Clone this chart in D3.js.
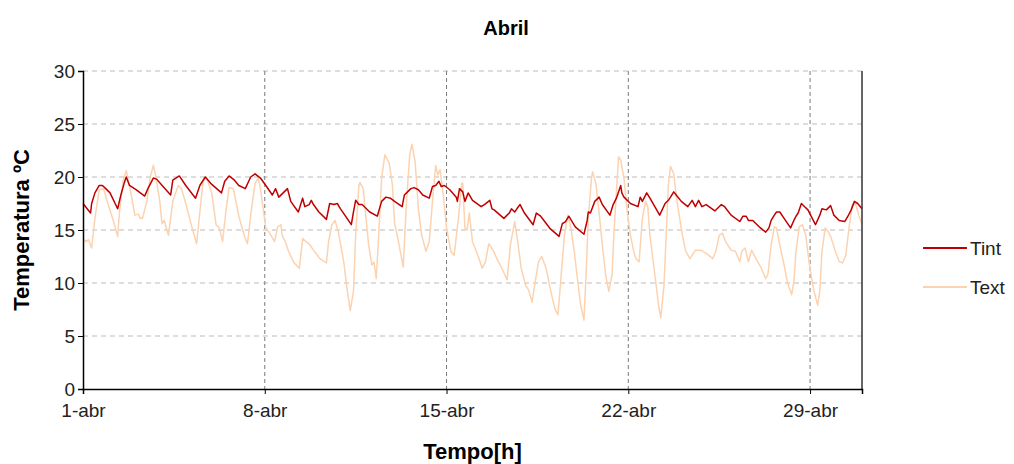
<!DOCTYPE html>
<html>
<head>
<meta charset="utf-8">
<script src="https://cdn.jsdelivr.net/npm/d3@7"></script>
<style>
  body { margin: 0; background: #fff; }
  svg { font-family: "Liberation Sans", Arial, sans-serif; }
  .tick text { font-size: 19px; fill: #222; }
</style>
</head>
<body>
<svg id="chart" width="1014" height="464"></svg>
<script>
// valeurs : [heure depuis le 1-abr 00h, temperature]
const tint = [
  [0,17.5],[7,16.6],[8,17.5],[11,18.5],[15,19.2],[18,19.2],[21,18.9],[25,18.5],[32,17.0],[35,18.3],[38,19.4],[40,20.0],[43,19.2],[49,18.8],[57,18.2],[60,18.9],[65,19.9],[68,19.8],[74,19.1],[81,18.3],[83,19.7],[89,20.1],[95,19.2],[104,18.0],[108,19.2],[113,20.0],[118,19.4],[128,18.5],[131,19.6],[135,20.1],[140,19.7],[144,19.2],
  [150,18.9],[155,20.0],[159,20.3],[164,19.9],[169,19.2],[175,18.3],[178,18.9],[181,18.1],[185,18.5],[189,18.9],[192,17.7],[199,16.7],[203,18.0],[205,17.2],[209,17.4],[211,17.8],[213,17.4],[218,16.7],[225,16.0],[228,17.5],[232,17.4],[235,17.5],[238,17.0],[242,16.4],[248,15.5],[250,16.7],[252,17.8],[255,17.4],[258,17.4],[265,16.7],[272,16.3],[276,17.7],[280,18.1],[284,18.0],[288,17.7],
  [295,17.2],[297,18.3],[300,18.6],[303,18.9],[306,19.0],[310,18.8],[314,18.3],[320,18.0],[323,19.1],[326,19.2],[329,19.6],[331,19.1],[334,19.2],[339,18.8],[345,18.1],[346,17.7],[348,18.9],[351,18.6],[353,17.7],[356,18.5],[360,17.8],[368,17.2],[371,17.4],[376,17.8],[378,17.0],[380,16.9],[389,16.1],[394,16.6],[396,17.0],[399,16.7],[401,17.0],[404,17.4],[408,16.6],[416,15.5],[419,16.6],[423,16.3],[432,15.1],
  [440,14.4],[443,15.6],[446,15.8],[449,16.3],[455,15.3],[463,14.6],[466,15.9],[467,16.7],[469,16.6],[473,17.7],[477,18.1],[480,17.4],[487,16.4],[490,17.4],[493,18.0],[497,19.2],[498,18.5],[500,18.1],[506,17.5],[513,17.2],[515,18.1],[517,17.7],[521,18.5],[524,18.0],[533,16.4],[538,17.5],[541,17.8],[543,18.1],[546,18.6],[549,18.2],[553,17.7],[559,17.2],[563,17.8],[566,17.2],[569,17.8],[572,17.2],[576,17.4],
  [584,16.8],[590,17.4],[593,17.2],[599,16.4],[607,15.8],[610,16.3],[613,16.3],[615,15.9],[619,15.9],[625,15.3],[631,14.8],[634,15.2],[636,15.9],[639,16.4],[641,16.7],[644,16.7],[648,16.1],[654,15.2],[657,15.9],[659,16.3],[661,16.6],[664,17.5],[667,17.2],[670,16.9],[677,15.5],[681,16.4],[683,17.0],[687,16.9],[691,17.3],[694,16.4],[699,15.9],[704,15.8],[707,16.3],[710,16.9],[713,17.7],[716,17.5],[720,17.0]
];

const text = [
  [0,14.2],[3,13.9],[5,14.1],[8,13.3],[11,16.1],[15,18.8],[19,18.9],[23,17.5],[28,15.9],[32,14.4],[34,17.0],[37,19.6],[40,20.6],[45,18.1],[48,16.4],[51,16.5],[53,16.1],[55,16.1],[59,17.7],[62,19.9],[65,21.1],[67,20.2],[71,17.7],[73,15.6],[75,15.9],[79,14.5],[83,17.7],[88,19.2],[91,18.9],[95,17.5],[100,15.5],[105,13.7],[108,16.7],[111,19.6],[114,20.0],[119,18.5],[123,15.5],[126,15.2],[129,13.9],[132,16.7],[135,19.0],[139,18.9],[144,16.3],
  [149,14.5],[152,13.7],[155,16.4],[159,19.4],[162,19.9],[164,18.9],[166,17.4],[169,15.2],[172,14.8],[177,13.9],[180,15.3],[183,15.5],[184,14.5],[187,13.9],[190,13.0],[195,11.9],[200,11.4],[203,14.2],[206,13.9],[209,13.7],[213,13.1],[219,12.3],[225,11.9],[227,13.9],[230,15.5],[233,15.9],[236,14.8],[241,12.0],[244,9.5],[247,7.4],[250,9.2],[252,14.5],[255,19.2],[256,19.5],[259,18.9],[261,16.7],[264,13.6],[267,11.7],[269,12.0],[271,10.4],[273,13.9],[276,19.9],[279,22.1],[283,21.3],[286,19.2],[288,15.6],
  [291,14.2],[296,11.5],[299,17.7],[302,22.1],[304,23.1],[307,21.4],[310,17.0],[313,14.5],[317,13.0],[320,13.9],[323,17.7],[326,21.1],[328,20.2],[330,20.7],[333,18.3],[336,15.2],[340,13.0],[343,12.6],[347,16.1],[350,19.4],[351,19.4],[353,15.2],[355,15.0],[357,16.6],[360,13.9],[365,12.6],[369,11.4],[372,12.0],[375,13.7],[379,13.1],[383,12.2],[388,11.2],[392,10.3],[395,13.6],[399,15.8],[401,14.5],[405,11.4],[409,9.8],[412,9.3],[415,8.2],[417,9.5],[421,12.0],[424,12.5],[428,11.4],[432,9.4],
  [436,7.6],[439,7.0],[442,10.8],[445,14.5],[448,16.4],[451,15.2],[454,13.0],[457,10.4],[460,7.9],[463,6.5],[465,10.8],[467,16.1],[470,19.9],[471,20.5],[474,19.4],[477,16.7],[480,13.6],[483,10.8],[486,9.2],[489,10.8],[491,15.2],[494,20.2],[495,21.9],[497,21.6],[500,19.9],[503,16.7],[506,14.5],[509,13.0],[511,12.3],[514,12.0],[517,16.1],[520,17.7],[522,17.2],[524,14.5],[529,10.4],[532,7.9],[534,6.7],[537,9.8],[539,14.5],[541,19.2],[543,21.0],[546,20.3],[549,17.7],[554,14.5],[557,13.0],[561,12.3],[566,13.1],[571,13.1],[576,12.8],
  [582,12.3],[585,13.0],[588,14.5],[591,14.7],[594,13.9],[599,13.1],[603,13.0],[607,12.0],[609,13.0],[612,13.3],[615,12.0],[618,13.1],[622,12.3],[627,11.4],[631,10.4],[633,10.8],[636,13.6],[639,15.3],[641,15.2],[644,13.6],[648,11.7],[651,10.1],[655,8.9],[657,10.1],[659,13.0],[662,15.3],[665,15.5],[668,14.5],[671,12.0],[675,9.5],[679,7.9],[681,9.2],[683,13.0],[686,15.2],[689,14.8],[691,14.4],[695,13.1],[699,12.0],[702,11.9],[705,12.6],[708,15.2],[711,17.4],[714,17.5],[717,16.4],[720,15.5]
];

const yTicks = [0, 5, 10, 15, 20, 25, 30];
const series = [
  {name: 'Tint', data: tint, color: '#c00000'},
  {name: 'Text', data: text, color: '#fcd3b0'}
];

const svg = d3.select('#chart');
const margin = {top: 71, right: 152, bottom: 75, left: 83};
const width = 1014 - margin.left - margin.right;
const height = 464 - margin.top - margin.bottom;
const g = svg.append('g').attr('transform', `translate(${margin.left},${margin.top})`);

const start = Date.UTC(2013, 3, 1);
const toDate = h => new Date(start + h * 3600e3);

const x = d3.scaleUtc().domain([toDate(0), toDate(720)]).range([0, width]);
const y = d3.scaleLinear().domain([0, 30]).range([height, 0]);
const xTicks = d3.utcDay.every(7).range(toDate(0), toDate(720));

// grille horizontale (30 compris)
g.append('g')
  .selectAll('line')
  .data(yTicks.filter(d => d > 0))
  .join('line')
  .attr('x1', 0).attr('x2', width)
  .attr('y1', d => y(d)).attr('y2', d => y(d))
  .attr('stroke', '#bcbcbc')
  .attr('stroke-dasharray', '5,4');

// grille verticale
g.append('g')
  .selectAll('line')
  .data(xTicks.filter(d => +d > start))
  .join('line')
  .attr('x1', d => x(d)).attr('x2', d => x(d))
  .attr('y1', 0).attr('y2', height)
  .attr('stroke', '#7a7a7a')
  .attr('stroke-dasharray', '4,3');

const line = d3.line()
  .x(d => x(toDate(d[0])))
  .y(d => y(d[1]));

// Text en dessous, Tint au dessus
g.selectAll('.serie')
  .data(series.slice().reverse())
  .join('path')
  .attr('class', 'serie')
  .attr('d', d => line(d.data))
  .attr('fill', 'none')
  .attr('stroke', d => d.color)
  .attr('stroke-width', 1.5)
  .attr('stroke-linejoin', 'round');

// bord droit
g.append('line')
  .attr('x1', width).attr('x2', width)
  .attr('y1', 0).attr('y2', height)
  .attr('stroke', '#333')
  .attr('stroke-width', 1.5);

// axes
g.append('g')
  .attr('transform', `translate(0,${height})`)
  .call(d3.axisBottom(x).tickValues(xTicks).tickSize(5).tickPadding(10)
    .tickFormat(d => `${d.getUTCDate()}-abr`))
  .call(a => a.select('.domain').attr('stroke', '#000').attr('stroke-width', 1.5));

g.append('g')
  .call(d3.axisLeft(y).tickValues(yTicks).tickSize(5).tickPadding(3))
  .call(a => a.select('.domain').attr('stroke', '#000').attr('stroke-width', 1.5));

g.selectAll('.tick line').attr('stroke', '#000');

// titres
svg.append('text')
  .attr('x', 506).attr('y', 35)
  .attr('text-anchor', 'middle')
  .style('font-size', '20px').style('font-weight', 'bold')
  .text('Abril');

svg.append('text')
  .attr('x', margin.left + width / 2).attr('y', 459)
  .attr('text-anchor', 'middle')
  .style('font-size', '22px').style('font-weight', 'bold')
  .text('Tempo[h]');

svg.append('text')
  .attr('transform', `translate(29,${margin.top + height / 2}) rotate(-90)`)
  .attr('text-anchor', 'middle')
  .style('font-size', '22px').style('font-weight', 'bold')
  .text('Temperatura ºC');

// légende
const legend = svg.append('g').attr('transform', 'translate(923,248)');
const item = legend.selectAll('g')
  .data(series)
  .join('g')
  .attr('transform', (d, i) => `translate(0,${i * 39})`);
item.append('line')
  .attr('x1', 0).attr('x2', 44)
  .attr('stroke', d => d.color)
  .attr('stroke-width', 2);
item.append('text')
  .attr('x', 47).attr('dy', '0.35em')
  .style('font-size', '19px').style('fill', '#222')
  .text(d => d.name);
</script>
</body>
</html>
